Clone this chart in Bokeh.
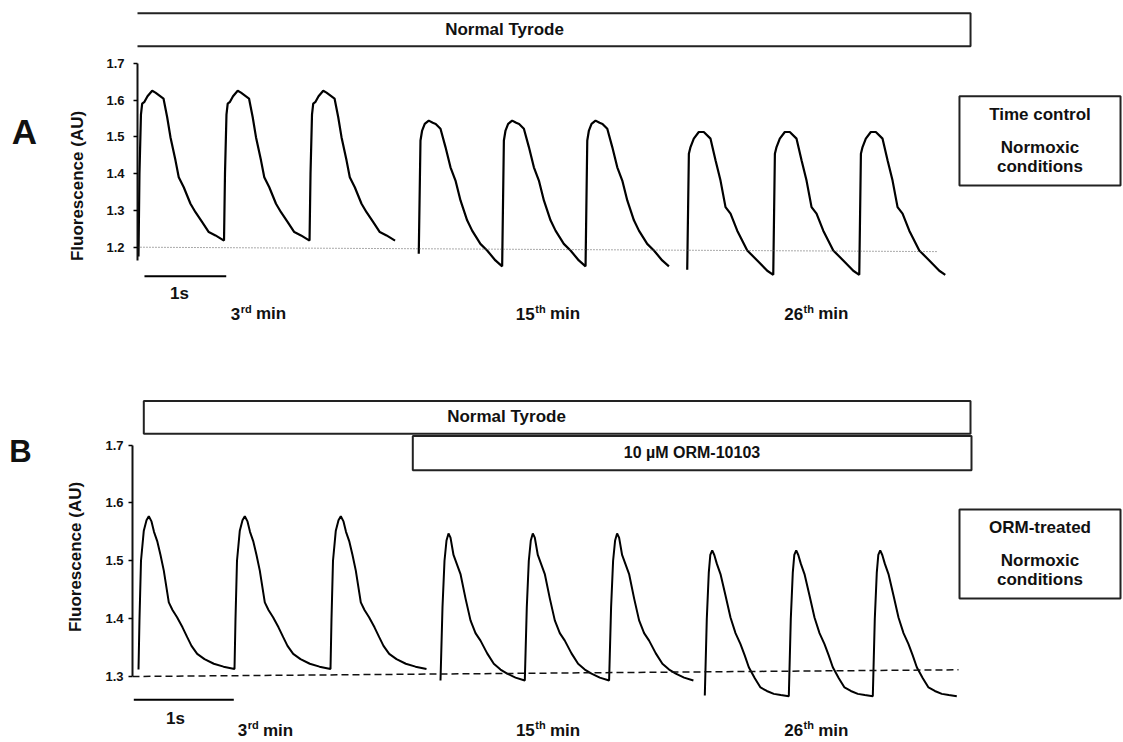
import numpy as np
from bokeh.plotting import figure
from bokeh.models import Range1d, FixedTicker, Label, BoxAnnotation
from bokeh.layouts import column, row
from bokeh.embed import file_html
from bokeh.resources import INLINE

# ---------------- DATA ----------------
# y-axis ticks (Fluorescence, AU)
A_ticks = [1.2, 1.3, 1.4, 1.5, 1.6, 1.7]
B_ticks = [1.3, 1.4, 1.5, 1.6, 1.7]
minute_nums = ["3", "15", "26"]
minute_sups = ["rd", "th", "th"]

# Panel A (time control) - one beat per recording, time since upstroke (ms) / fluorescence (AU)
A1_ms = [0, 12, 30, 45, 73, 110, 167, 207, 256, 305, 350, 390, 451, 491, 552, 634, 695, 777, 857, 939, 1043]
A1_f = [1.218, 1.40, 1.56, 1.59, 1.595, 1.61, 1.625, 1.62, 1.612, 1.604, 1.553, 1.499, 1.436, 1.39, 1.363, 1.318, 1.295, 1.268, 1.241, 1.232, 1.218]
A2_ms = [0, 21, 41, 73, 122, 171, 207, 265, 326, 387, 448, 509, 590, 651, 752, 834, 935, 1017]
A2_f = [1.148, 1.49, 1.517, 1.535, 1.544, 1.538, 1.535, 1.522, 1.472, 1.417, 1.381, 1.327, 1.273, 1.245, 1.209, 1.191, 1.164, 1.148]
A3_ms = [0, 20, 40, 80, 141, 202, 284, 345, 406, 467, 528, 610, 732, 854, 976, 1049]
A3_f = [1.125, 1.454, 1.472, 1.495, 1.513, 1.513, 1.495, 1.436, 1.381, 1.309, 1.291, 1.245, 1.191, 1.164, 1.136, 1.125]
A_start_s = [0.012, 3.430, 6.704]
A_first_f = [1.175, 1.182, 1.139]
A_baseline_t = [0.0, 9.756]
A_baseline_f = [1.2, 1.188]

# Panel B (ORM-treated)
B1_ms = [0, 10, 25, 53, 80, 103, 130, 155, 187, 220, 253, 303, 340, 387, 440, 487, 530, 587, 660, 753, 850, 960]
B1_f = [1.313, 1.40, 1.50, 1.552, 1.57, 1.577, 1.568, 1.55, 1.534, 1.51, 1.483, 1.428, 1.415, 1.402, 1.385, 1.368, 1.353, 1.339, 1.330, 1.322, 1.317, 1.313]
B2_ms = [0, 20, 40, 60, 80, 100, 130, 200, 250, 300, 350, 400, 467, 533, 600, 667, 750, 843]
B2_f = [1.293, 1.42, 1.50, 1.535, 1.547, 1.54, 1.51, 1.477, 1.435, 1.397, 1.375, 1.362, 1.34, 1.322, 1.312, 1.305, 1.298, 1.293]
B3_ms = [0, 20, 40, 55, 74, 95, 120, 157, 207, 257, 307, 357, 400, 440, 500, 557, 620, 690, 760, 840]
B3_f = [1.266, 1.40, 1.48, 1.51, 1.518, 1.51, 1.495, 1.477, 1.44, 1.402, 1.375, 1.356, 1.336, 1.316, 1.297, 1.281, 1.275, 1.270, 1.268, 1.266]
B_start_s = [0.06, 3.08, 5.723]
B_first_f = [1.312, 1.293, 1.267]
B_baseline_t = [0.0, 8.26]
B_baseline_f = [1.30, 1.3116]

BEATS = 3
FONT = "Liberation Sans"
LETTER_W = 60
PANEL_H = 371


def build_trace(start_s, ms, f, first):
    period = ms[-1]
    xs, ys = [], []
    for k in range(BEATS):
        for j, (m, v) in enumerate(zip(ms, f)):
            if k > 0 and j == 0:
                continue
            xs.append(start_s + (k * period + m) / 1000.0)
            ys.append(first if (k == 0 and j == 0) else v)
    return xs, ys


def add_label(p, x, y, text, size, align="center", baseline="middle", x_off=0, y_off=0):
    p.add_layout(Label(x=x, y=y, text=text, text_font=FONT, text_font_style="bold",
                       text_font_size=size, text_align=align, text_baseline=baseline,
                       x_offset=x_off, y_offset=y_off, text_color="#111111"))


def add_box(p, l, r, b, t, lw=2):
    p.add_layout(BoxAnnotation(left=l, right=r, bottom=b, top=t, fill_alpha=0.0,
                               line_color="#222222", line_width=lw, line_alpha=1.0))


def minute_label(p, cx, y, num, sup):
    w_digit = 0.556 * 17
    sup_w = {"rd": (0.389 + 0.611) * 11, "th": (0.333 + 0.611) * 11}[sup]
    w_num = w_digit * len(num)
    space = 0.278 * 17
    w_min = (0.889 + 0.278 + 0.611) * 17
    total = w_num + sup_w + space + w_min
    x0 = -total / 2
    add_label(p, cx, y, num, "17px", align="left", x_off=x0)
    add_label(p, cx, y, sup, "11px", align="left", x_off=x0 + w_num + 0.5, y_off=5)
    add_label(p, cx, y, "min", "17px", align="left", x_off=x0 + w_num + sup_w + space)


def letter_fig(letter, cx_px, cy_px, size):
    f = figure(width=LETTER_W, height=PANEL_H, output_backend="svg", toolbar_location=None,
               x_range=Range1d(0, LETTER_W), y_range=Range1d(PANEL_H, 0),
               x_axis_location=None, y_axis_location=None,
               min_border=0)
    f.outline_line_color = None
    f.grid.visible = False
    add_label(f, cx_px, cy_px, letter, size)
    return f


def make_panel(y0, y1, x1, left_border, ticks, bounds, tick_standoff, label_standoff):
    p = figure(width=1123 - LETTER_W, height=PANEL_H, output_backend="svg", toolbar_location=None,
               x_range=Range1d(0, x1), y_range=Range1d(y0, y1), x_axis_location=None,
               min_border_left=left_border - LETTER_W, min_border_right=0, min_border_top=0,
               min_border_bottom=0)
    p.outline_line_color = None
    p.grid.visible = False
    ax = p.yaxis[0]
    ax.ticker = FixedTicker(ticks=ticks)
    ax.bounds = bounds
    ax.axis_line_width = 2
    ax.axis_line_color = "#111111"
    ax.major_tick_out = 4
    ax.major_tick_in = 0
    ax.major_tick_line_width = 1.5
    ax.minor_tick_out = 0
    ax.minor_tick_in = 0
    ax.major_label_text_font = FONT
    ax.major_label_text_font_style = "bold"
    ax.major_label_text_font_size = "13px"
    ax.major_label_text_color = "#111111"
    ax.major_label_standoff = tick_standoff
    ax.axis_label = "Fluorescence (AU)"
    ax.axis_label_text_font = FONT
    ax.axis_label_text_font_style = "bold"
    ax.axis_label_text_font_size = "17px"
    ax.axis_label_text_color = "#111111"
    ax.axis_label_standoff = label_standoff
    return p


# ---------------- PANEL A ----------------
pA = make_panel(0.8622, 1.8704, 986 / 82, 137, A_ticks, (1.164, 1.7), 9, 16)
for (ms, f), st, fi in zip([(A1_ms, A1_f), (A2_ms, A2_f), (A3_ms, A3_f)], A_start_s, A_first_f):
    xs, ys = build_trace(st, ms, f, fi)
    pA.line(xs, ys, line_color="black", line_width=2.2)
pA.line(A_baseline_t, A_baseline_f, line_color="#555555", line_width=1, line_dash="1 2")
pA.line([0.085, 1.082], [1.1212, 1.1212], line_color="black", line_width=2)
add_label(pA, 0.512, 1.0742, "1s", "17px")
for cx, n, s in zip([1.476, 5.006, 8.278], minute_nums, minute_sups):
    minute_label(pA, cx, 1.0198, n, s)
add_box(pA, -0.045, 10.159, 1.7462, 1.8359)
add_label(pA, 4.476, 1.791, "Normal Tyrode", "17px")
add_box(pA, 10.024, 11.988, 1.3677, 1.6103)
add_label(pA, 11.006, 1.5606, "Time control", "17px")
add_label(pA, 11.006, 1.4717, "Normoxic", "17px")
add_label(pA, 11.006, 1.4193, "conditions", "17px")
lA = letter_fig("A", 24, 130.5, "35px")

# ---------------- PANEL B ----------------
pB = make_panel(1.18596, 1.827, 9.91, 132, B_ticks, (1.3, 1.7), 5, 17)
for (ms, f), st, fi in zip([(B1_ms, B1_f), (B2_ms, B2_f), (B3_ms, B3_f)], B_start_s, B_first_f):
    xs, ys = build_trace(st, ms, f, fi)
    pB.line(xs, ys, line_color="black", line_width=2)
pB.line(B_baseline_t, B_baseline_f, line_color="#111111", line_width=1.5, line_dash="7 4")
pB.line([0.013, 1.013], [1.2597, 1.2597], line_color="black", line_width=2)
add_label(pB, 0.43, 1.2269, "1s", "17px")
for cx, n, s in zip([1.33, 4.155, 6.838], minute_nums, minute_sups):
    minute_label(pB, cx, 1.2075, n, s)
add_box(pB, 0.113, 8.38, 1.7195, 1.7759)
add_label(pB, 3.74, 1.7487, "Normal Tyrode", "17px")
add_box(pB, 2.803, 8.39, 1.6564, 1.7155)
add_label(pB, 5.595, 1.687, "10 \u00b5M ORM-10103", "16px")
add_box(pB, 8.27, 9.88, 1.4348, 1.5886)
add_label(pB, 9.075, 1.5569, "ORM-treated", "17px")
add_label(pB, 9.075, 1.5004, "Normoxic", "17px")
add_label(pB, 9.075, 1.4671, "conditions", "17px")
lB = letter_fig("B", 20, 80, "31px")

layout = column(row(lA, pA, spacing=0), row(lB, pB, spacing=0), spacing=0)
open("out.html", "w", encoding="utf-8").write(file_html(layout, INLINE))
